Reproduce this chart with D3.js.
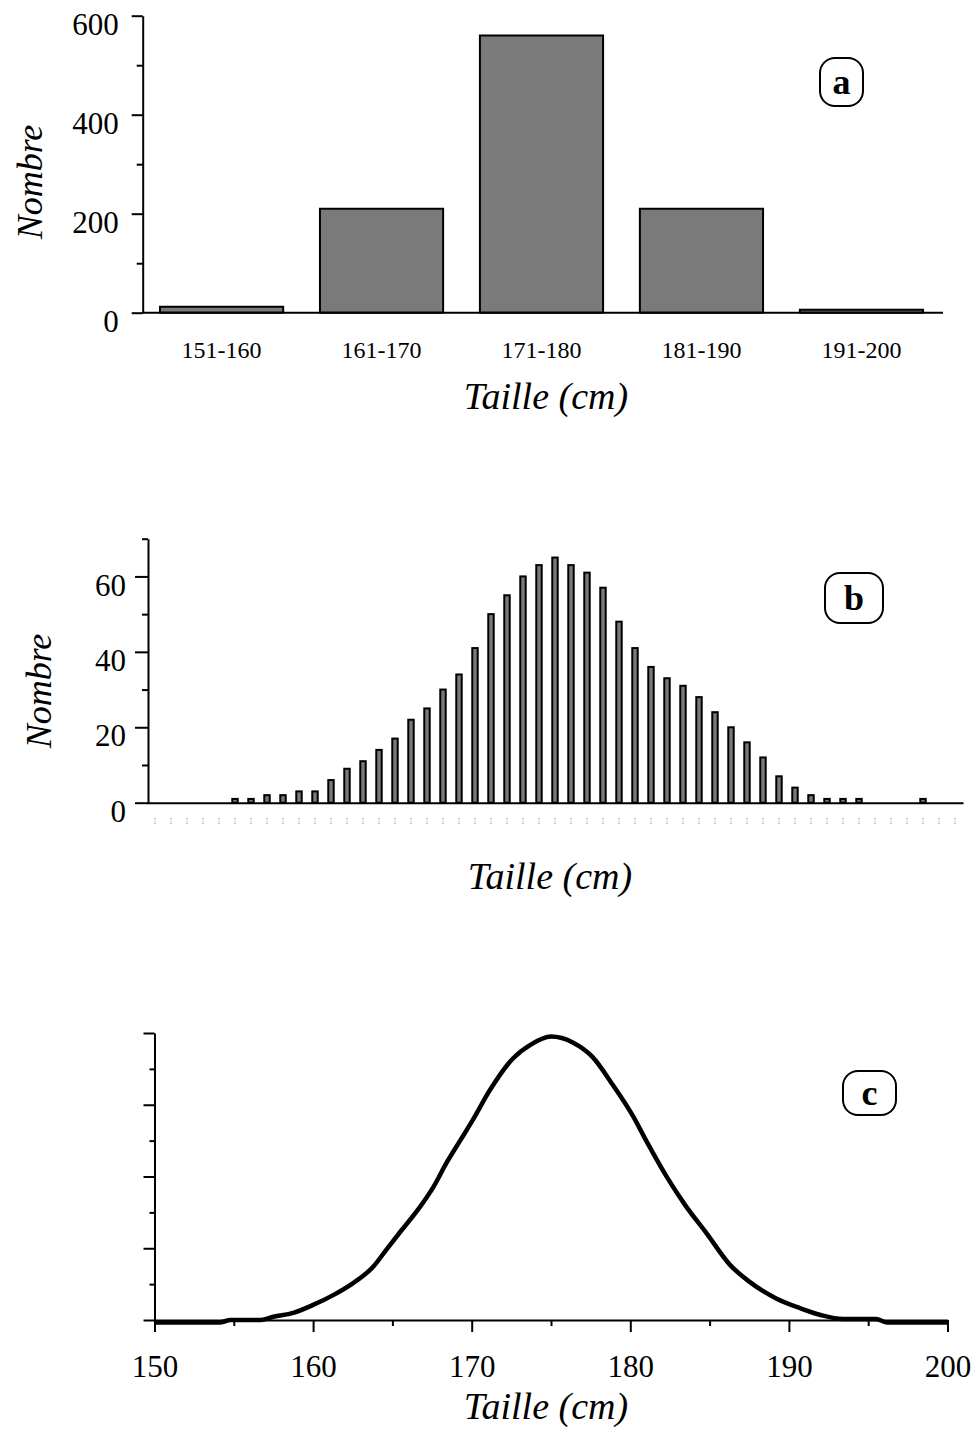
<!DOCTYPE html>
<html>
<head>
<meta charset="utf-8">
<script src="https://cdn.jsdelivr.net/npm/d3@7/dist/d3.min.js"></script>
<style>
  body { margin: 0; background: #fff; }
  text { font-family: "Liberation Serif", "Times New Roman", serif; fill: #000; }
</style>
</head>
<body>
<div id="chart"></div>
<script>
// ---- data ----
// (a) counts per 10 cm class
const classes = ["151-160", "161-170", "171-180", "181-190", "191-200"];
const effectifs = [12, 210, 560, 210, 6];

// (b) counts per cm
const taillesB = [155, 156, 157, 158, 159, 160, 161, 162, 163, 164, 165, 166, 167, 168, 169,
  170, 171, 172, 173, 174, 175, 176, 177, 178, 179, 180, 181, 182, 183, 184, 185, 186, 187,
  188, 189, 190, 191, 192, 193, 194, 198];
const nombresB = [1, 1, 2, 2, 3, 3, 6, 9, 11, 14, 17, 22, 25, 30, 34,
  41, 50, 55, 60, 63, 65, 63, 61, 57, 48, 41, 36, 33, 31, 28, 24, 20, 16,
  12, 7, 4, 2, 1, 1, 1, 1];
const tailleTicksB = d3.range(150, 201);

// (c) smoothed distribution (arbitrary units)
const tailleC = [150, 154.1, 154.8, 156.7, 157.5, 158.75, 160, 161.3, 162.5, 163.8, 164.6, 165.5,
  166.6, 167.6, 168.4, 169.3, 170.1, 171.15, 172.6, 173.7, 175, 176.4, 177.6, 178.9, 180.2,
  181, 182.3, 183.45, 184.8, 186.3, 187.5, 189.2, 190.7, 192, 193.4, 195.5, 196.2, 200];
const densiteC = [-0.07, -0.07, 0, 0, 0.09, 0.2, 0.42, 0.7, 1.02, 1.49, 1.95, 2.46,
  3.07, 3.72, 4.37, 5.02, 5.6, 6.41, 7.29, 7.67, 7.9, 7.73, 7.34, 6.55, 5.66,
  5.0, 3.99, 3.21, 2.42, 1.53, 1.07, 0.6, 0.33, 0.14, 0.03, 0.03, -0.07, -0.07];

const W = 974, H = 1430;
const svg = d3.select("#chart").append("svg")
  .attr("width", W).attr("height", H);

svg.append("rect").attr("width", W).attr("height", H).attr("fill", "#fff");

// common axis styling
function styleAxis(g, fontSize) {
  g.attr("font-family", null).attr("font-size", fontSize);
  g.selectAll("path.domain").attr("stroke", "#000").attr("stroke-width", 2);
  g.selectAll(".tick line").attr("stroke", "#000").attr("stroke-width", 2);
  g.selectAll(".tick text").attr("fill", "#000");
}

function panelLabel(cx, cy, w, h, letter) {
  const g = svg.append("g");
  g.append("rect")
    .attr("x", cx - w / 2).attr("y", cy - h / 2)
    .attr("width", w).attr("height", h)
    .attr("rx", 15)
    .attr("fill", "none").attr("stroke", "#000").attr("stroke-width", 2);
  g.append("text")
    .attr("x", cx).attr("y", cy)
    .attr("dy", "0.33em")
    .attr("text-anchor", "middle")
    .attr("font-size", 36).attr("font-weight", "bold")
    .text(letter);
}

function axisTitle(x, y, txt, rotate, size) {
  svg.append("text")
    .attr("transform", rotate ? `translate(${x},${y}) rotate(-90)` : `translate(${x},${y})`)
    .attr("text-anchor", "middle")
    .attr("font-size", size)
    .attr("font-style", "italic")
    .text(txt);
}

// ================= (a) =================
const xa = d3.scaleBand()
  .domain(classes)
  .range([142, 941])
  .paddingInner(0.23)
  .paddingOuter(0.1125);
const ya = d3.scaleLinear().domain([0, 600]).range([312.7, 15.7]);

svg.append("g")
  .selectAll("rect")
  .data(classes)
  .join("rect")
  .attr("x", (d) => xa(d))
  .attr("y", (d, i) => ya(effectifs[i]))
  .attr("width", xa.bandwidth())
  .attr("height", (d, i) => ya(0) - ya(effectifs[i]))
  .attr("fill", "#7a7a7a")
  .attr("stroke", "#000")
  .attr("stroke-width", 2);

const gya = svg.append("g")
  .attr("transform", "translate(142.7,0)")
  .call(d3.axisLeft(ya)
    .tickValues(d3.range(0, 601, 100))
    .tickFormat((d) => d % 200 === 0 ? d : "")
    .tickSize(11).tickSizeOuter(0).tickPadding(13));
styleAxis(gya, 31);
gya.selectAll(".tick").filter((d) => d % 200 !== 0).select("line").attr("x2", -6);
gya.selectAll(".tick text").attr("dy", "0.6em");

const gxa = svg.append("g")
  .attr("transform", `translate(0,${ya(0)})`)
  .call(d3.axisBottom(xa).tickSize(0).tickSizeOuter(0).tickPadding(28));
styleAxis(gxa, 24);
gxa.select("path.domain").attr("d", "M142,0H943");

axisTitle(42, 182, "Nombre", true, 36);
axisTitle(546, 409, "Taille (cm)", false, 38);
panelLabel(841.5, 82, 43, 48, "a");

// ================= (b) =================
const xb = d3.scaleBand()
  .domain(tailleTicksB)
  .range([147, 963])
  .paddingInner(0.66)
  .paddingOuter(0.33);
const yb = d3.scaleLinear().domain([0, 70]).range([802.7, 538.7]);

svg.append("g")
  .selectAll("rect")
  .data(taillesB)
  .join("rect")
  .attr("x", (d) => xb(d))
  .attr("y", (d, i) => yb(nombresB[i]))
  .attr("width", xb.bandwidth())
  .attr("height", (d, i) => yb(0) - yb(nombresB[i]))
  .attr("fill", "#7a7a7a")
  .attr("stroke", "#000")
  .attr("stroke-width", 2);

const gyb = svg.append("g")
  .attr("transform", "translate(148,0)")
  .call(d3.axisLeft(yb)
    .tickValues(d3.range(0, 71, 10))
    .tickFormat((d) => d % 20 === 0 ? d : "")
    .tickSize(13).tickSizeOuter(0).tickPadding(9));
styleAxis(gyb, 31);
gyb.selectAll(".tick").filter((d) => d % 20 !== 0).select("line").attr("x2", -6);
gyb.selectAll(".tick text").attr("dy", "0.6em");

// baseline
const gxb = svg.append("g")
  .attr("transform", `translate(0,${yb(0)})`)
  .call(d3.axisBottom(xb).tickValues([]).tickSize(0).tickSizeOuter(0));
styleAxis(gxb, 10);

// faint dotted tick marks below the baseline
const gxbt = svg.append("g")
  .attr("transform", "translate(0,818)")
  .call(d3.axisBottom(xb).tickSize(6).tickFormat(""));
gxbt.select("path.domain").remove();
gxbt.selectAll(".tick line")
  .attr("stroke", "#9a9a9a")
  .attr("stroke-width", 1.2)
  .attr("stroke-dasharray", "1.2,1.2");

axisTitle(51, 691, "Nombre", true, 36);
axisTitle(550, 889, "Taille (cm)", false, 38);
panelLabel(854, 598, 58, 50, "b");

// ================= (c) =================
const xc = d3.scaleLinear().domain([150, 200]).range([154.5, 947.5]);
const yc = d3.scaleLinear().domain([0, 8]).range([1320, 1033]);

const gyc = svg.append("g")
  .attr("transform", `translate(${xc(150)},0)`)
  .call(d3.axisLeft(yc)
    .tickValues(d3.range(0, 9, 1))
    .tickFormat("")
    .tickSize(11).tickSizeOuter(0));
styleAxis(gyc, 10);
gyc.selectAll(".tick").filter((d) => d % 2 !== 0).select("line").attr("x2", -5);

const gxc = svg.append("g")
  .attr("transform", `translate(0,${yc(0)})`)
  .call(d3.axisBottom(xc)
    .tickValues(d3.range(150, 201, 5))
    .tickFormat((d) => d % 10 === 0 ? d : "")
    .tickSize(12).tickSizeOuter(0).tickPadding(23));
styleAxis(gxc, 31);
gxc.selectAll(".tick").filter((d) => d % 10 !== 0).select("line").attr("y2", 6);

const line = d3.line()
  .curve(d3.curveMonotoneX)
  .x((d) => xc(d[0]))
  .y((d) => yc(d[1]));

svg.append("path")
  .datum(tailleC.map((t, i) => [t, densiteC[i]]))
  .attr("d", line)
  .attr("fill", "none")
  .attr("stroke", "#000")
  .attr("stroke-width", 4.5)
  .attr("stroke-linejoin", "round");

axisTitle(546, 1419, "Taille (cm)", false, 38);
panelLabel(869.5, 1093, 53, 44, "c");
</script>
</body>
</html>
